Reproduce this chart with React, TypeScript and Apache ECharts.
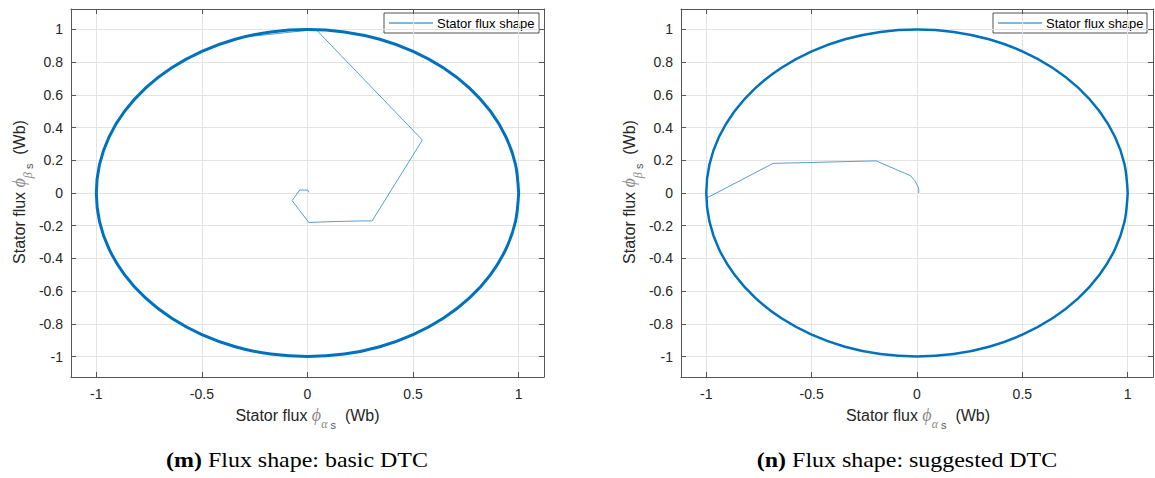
import React, { useEffect, useRef } from "react";
import * as echarts from "echarts";

// Steady-state stator flux locus (unit circle), read at 10 degree steps
const circleAlpha = [1, 0.985, 0.94, 0.866, 0.766, 0.643, 0.5, 0.342, 0.174, 0, -0.174, -0.342, -0.5, -0.643, -0.766, -0.866, -0.94, -0.985, -1, -0.985, -0.94, -0.866, -0.766, -0.643, -0.5, -0.342, -0.174, 0, 0.174, 0.342, 0.5, 0.643, 0.766, 0.866, 0.94, 0.985, 1];
const circleBeta = [0, 0.174, 0.342, 0.5, 0.643, 0.766, 0.866, 0.94, 0.985, 1, 0.985, 0.94, 0.866, 0.766, 0.643, 0.5, 0.342, 0.174, 0, -0.174, -0.342, -0.5, -0.643, -0.766, -0.866, -0.94, -0.985, -1, -0.985, -0.94, -0.866, -0.766, -0.643, -0.5, -0.342, -0.174, 0];

// Start-up transient, basic DTC
const basicAlpha = [0.006, 0.001, -0.037, -0.073, 0.006, 0.117, 0.243, 0.306, 0.544, 0.04, -0.3];
const basicBeta = [0.004, 0.018, 0.018, -0.047, -0.18, -0.175, -0.171, -0.171, 0.324, 1.0, 0.953];

// Start-up transient, suggested DTC
const suggAlpha = [0.008, 0.008, -0.01, -0.03, -0.193, -0.304, -0.49, -0.683, -0.997];
const suggBeta = [0.0, 0.03, 0.075, 0.105, 0.196, 0.193, 0.187, 0.181, -0.03];

const tickX = [-1, -0.5, 0, 0.5, 1];
const tickY = [-1, -0.8, -0.6, -0.4, -0.2, 0, 0.2, 0.4, 0.6, 0.8, 1];

const legendName = "Stator flux shape";
const captions = [
  { label: "(m)", text: " Flux shape: basic DTC" },
  { label: "(n)", text: " Flux shape: suggested DTC" },
];

const zip = (a: number[], b: number[]) => a.map((v, i) => [v, b[i]]);

const SANS = "'Liberation Sans', Arial, Helvetica, sans-serif";
const SERIF = "'Liberation Serif', 'Times New Roman', serif";
const AXIS_COLOR = "#555555";
const TEXT_COLOR = "#262626";
const GRID_COLOR = "#e3e3e3";
const LINE_COLOR = "#0072BD";

const X_MIN = -1.12, X_MAX = 1.12, Y_MIN = -1.125, Y_MAX = 1.125;

function xAxes(gridIndex: number) {
  return [
    {
      type: "value", gridIndex, position: "bottom", min: X_MIN, max: X_MAX,
      axisLine: { show: true, onZero: false, lineStyle: { color: AXIS_COLOR, width: 1 } },
      axisTick: { show: true, inside: true, length: 5, customValues: tickX, lineStyle: { color: AXIS_COLOR } },
      axisLabel: { show: true, customValues: tickX, margin: 10, color: TEXT_COLOR, fontSize: 14, fontFamily: SANS },
      splitLine: { show: true, lineStyle: { color: GRID_COLOR, width: 1 } },
    },
    {
      type: "value", gridIndex, position: "top", min: X_MIN, max: X_MAX,
      axisLine: { show: true, onZero: false, lineStyle: { color: AXIS_COLOR, width: 1 } },
      axisTick: { show: true, inside: true, length: 5, customValues: tickX, lineStyle: { color: AXIS_COLOR } },
      axisLabel: { show: false },
      splitLine: { show: false },
    },
  ];
}

function yAxes(gridIndex: number) {
  return [
    {
      type: "value", gridIndex, position: "left", min: Y_MIN, max: Y_MAX,
      axisLine: { show: true, onZero: false, lineStyle: { color: AXIS_COLOR, width: 1 } },
      axisTick: { show: true, inside: true, length: 5, customValues: tickY, lineStyle: { color: AXIS_COLOR } },
      axisLabel: { show: true, customValues: tickY, margin: 8, color: TEXT_COLOR, fontSize: 14, fontFamily: SANS },
      splitLine: { show: true, lineStyle: { color: GRID_COLOR, width: 1 } },
    },
    {
      type: "value", gridIndex, position: "right", min: Y_MIN, max: Y_MAX,
      axisLine: { show: true, onZero: false, lineStyle: { color: AXIS_COLOR, width: 1 } },
      axisTick: { show: true, inside: true, length: 5, customValues: tickY, lineStyle: { color: AXIS_COLOR } },
      axisLabel: { show: false },
      splitLine: { show: false },
    },
  ];
}

function axisTitle(x: number, y: number, sub: string, rotate: boolean) {
  return {
    type: "text",
    x, y,
    rotation: rotate ? Math.PI / 2 : 0,
    silent: true,
    style: {
      text: `{t|Stator flux }{p|ϕ}{g|${sub}}{s| s}{t|  (Wb)}`,
      align: "center",
      verticalAlign: "middle",
      rich: {
        t: { fontSize: 16, fontFamily: SANS, fill: TEXT_COLOR, lineHeight: 30 },
        p: { fontSize: 18, fontFamily: SERIF, fontStyle: "italic", fill: "#8a8a8a", lineHeight: 30 },
        g: { fontSize: 12, fontFamily: SERIF, fontStyle: "italic", fill: "#8a8a8a", lineHeight: 12, verticalAlign: "bottom" },
        s: { fontSize: 11, fontFamily: SANS, fill: "#555555", lineHeight: 12, verticalAlign: "bottom" },
      },
    },
  };
}

function caption(x: number, y: number, c: { label: string; text: string }) {
  return {
    type: "text",
    x, y,
    scaleX: 1.14,
    silent: true,
    style: {
      text: `{b|${c.label}}{r|${c.text}}`,
      align: "center",
      verticalAlign: "middle",
      rich: {
        b: { fontSize: 21, fontFamily: SERIF, fontWeight: "bold", fill: "#000" },
        r: { fontSize: 21, fontFamily: SERIF, fill: "#000" },
      },
    },
  };
}

function legendBox(left: number, width: number) {
  return {
    type: "group",
    x: left, y: 13,
    silent: true,
    z: 100,
    children: [
      {
        type: "rect",
        shape: { x: 0, y: 0, width, height: 20 },
        style: { fill: "#ffffff", stroke: "#262626", lineWidth: 0.8 },
      },
      {
        type: "line",
        shape: { x1: 5, y1: 10, x2: 49, y2: 10 },
        style: { stroke: LINE_COLOR, lineWidth: 1 },
      },
      {
        type: "text",
        x: 53, y: 10,
        style: { text: legendName, fontSize: 13, fontFamily: SANS, fill: "#000", verticalAlign: "middle", align: "left" },
      },
    ],
  };
}

export default function App() {
  const ref = useRef<HTMLDivElement>(null);
  useEffect(() => {
    if (!ref.current) return;
    const chart = echarts.init(ref.current, null, { renderer: "svg" });
    const option = {
      animation: false,
      backgroundColor: "#ffffff",
      grid: [
        { left: 71, top: 9, width: 473, height: 368 },
        { left: 681, top: 9, width: 472, height: 368 },
      ],
      xAxis: [...xAxes(0), ...xAxes(1)],
      yAxis: [...yAxes(0), ...yAxes(1)],
      series: [
        {
          name: legendName, type: "line", xAxisIndex: 0, yAxisIndex: 0,
          data: zip(circleAlpha, circleBeta), smooth: 0.33, symbol: "none",
          lineStyle: { color: LINE_COLOR, width: 3 }, itemStyle: { color: LINE_COLOR },
        },
        {
          name: "basic transient", type: "line", xAxisIndex: 0, yAxisIndex: 0,
          data: zip(basicAlpha, basicBeta), symbol: "none",
          lineStyle: { color: LINE_COLOR, width: 0.8, opacity: 0.85 }, itemStyle: { color: LINE_COLOR },
        },
        {
          name: legendName, type: "line", xAxisIndex: 2, yAxisIndex: 2,
          data: zip(circleAlpha, circleBeta), smooth: 0.33, symbol: "none",
          lineStyle: { color: LINE_COLOR, width: 2.5 }, itemStyle: { color: LINE_COLOR },
        },
        {
          name: "suggested transient", type: "line", xAxisIndex: 2, yAxisIndex: 2,
          data: zip(suggAlpha, suggBeta), symbol: "none",
          lineStyle: { color: LINE_COLOR, width: 0.8, opacity: 0.85 }, itemStyle: { color: LINE_COLOR },
        },
      ],
      graphic: [
        axisTitle(307.5, 415, "α", false),
        axisTitle(918, 415, "α", false),
        axisTitle(19, 192, "β", true),
        axisTitle(629, 192, "β", true),
        caption(297, 460, captions[0]),
        caption(907, 460, captions[1]),
        legendBox(384, 155),
        legendBox(993, 154),
      ],
    };
    chart.setOption(option as any);
    return () => chart.dispose();
  }, []);
  return (
    <div
      ref={ref}
      style={{ position: "fixed", left: 0, top: 0, width: 1155, height: 478, background: "#fff" }}
    />
  );
}
